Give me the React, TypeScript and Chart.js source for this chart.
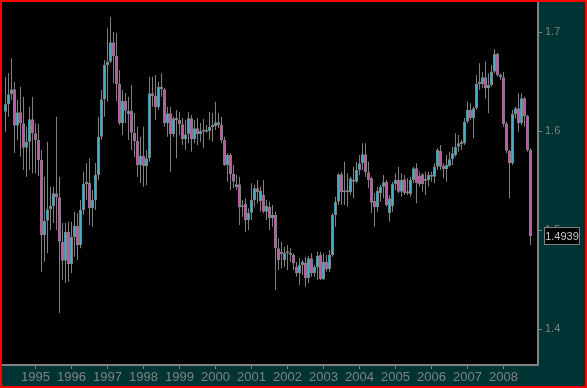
import { useEffect, useRef } from "react";
import { Chart, registerables } from "chart.js";

Chart.register(...registerables);

// First candle: March 1994, expressed as months since January 1995
const START_MONTH = -10;

const yearLabels = ["1995", "1996", "1997", "1998", "1999", "2000", "2001", "2002", "2003", "2004", "2005", "2006", "2007", "2008"];
const priceTicks = [1.4, 1.5, 1.6, 1.7];
const lastValue = 1.4939;

const opens = [
  // 1994 Mar-Dec
  1.6198, 1.6276, 1.6374, 1.6424, 1.6056, 1.6192, 1.6081, 1.5834, 1.5895, 1.6121,
  // 1995
  1.5980, 1.5912, 1.5710, 1.4952, 1.5097, 1.5212, 1.5245, 1.5374, 1.5333, 1.4885, 1.4693, 1.4986,
  // 1996
  1.4660, 1.4932, 1.5043, 1.4851, 1.5205, 1.5468, 1.5481, 1.5222, 1.5306, 1.5558, 1.5945, 1.6323,
  // 1997
  1.6669, 1.6703, 1.6899, 1.6760, 1.6478, 1.6081, 1.6309, 1.6175, 1.6208, 1.5986, 1.5902, 1.5659,
  // 1998
  1.5753, 1.5649, 1.5727, 1.6384, 1.6356, 1.6242, 1.6450, 1.6424, 1.6081, 1.6182, 1.5973, 1.6131,
  // 1999
  1.6114, 1.6071, 1.5919, 1.5970, 1.6131, 1.5919, 1.6030, 1.5970, 1.6006, 1.5996, 1.6003, 1.6043,
  // 2000
  1.6053, 1.6091, 1.6063, 1.5912, 1.5659, 1.5760, 1.5569, 1.5434, 1.5465, 1.5232, 1.5266, 1.5104,
  // 2001
  1.5178, 1.5306, 1.5424, 1.5296, 1.5356, 1.5188, 1.5238, 1.5121, 1.5154, 1.4818, 1.4761, 1.4700,
  // 2002
  1.4774, 1.4761, 1.4750, 1.4632, 1.4566, 1.4649, 1.4673, 1.4515, 1.4717, 1.4566, 1.4629, 1.4750,
  // 2003
  1.4505, 1.4683, 1.4606, 1.4750, 1.5154, 1.5289, 1.5566, 1.5384, 1.5390, 1.5384, 1.5508, 1.5491,
  // 2004
  1.5609, 1.5677, 1.5768, 1.5586, 1.5525, 1.5296, 1.5232, 1.5374, 1.5440, 1.5491, 1.5175, 1.5245,
  // 2005
  1.5468, 1.5508, 1.5390, 1.5515, 1.5374, 1.5367, 1.5508, 1.5626, 1.5548, 1.5566, 1.5515, 1.5508,
  // 2006
  1.5558, 1.5541, 1.5642, 1.5804, 1.5649, 1.5616, 1.5649, 1.5717, 1.5760, 1.5844, 1.5879, 1.5879,
  // 2007
  1.6097, 1.6215, 1.6131, 1.6232, 1.6478, 1.6478, 1.6545, 1.6434, 1.6467, 1.6602, 1.6781, 1.6568,
  // 2008 Jan-Oct
  1.6545, 1.6074, 1.5804, 1.5677, 1.6175, 1.6232, 1.6081, 1.6333, 1.6154, 1.5811,
];

const highs = [
  1.6551, 1.6586, 1.6737, 1.6501, 1.6316, 1.6450, 1.6349, 1.6046, 1.6248, 1.6349,
  1.6081, 1.6074, 1.5811, 1.5541, 1.5895, 1.5440, 1.5440, 1.6147, 1.5541, 1.5074, 1.5074, 1.5087,
  1.5087, 1.5188, 1.5172, 1.5306, 1.5592, 1.5677, 1.5727, 1.5407, 1.5680, 1.6147, 1.6417, 1.6720,
  1.7040, 1.7157, 1.7006, 1.6993, 1.6619, 1.6417, 1.6387, 1.6349, 1.6467, 1.6185, 1.6046, 1.5945,
  1.6046, 1.5811, 1.6551, 1.6551, 1.6568, 1.6501, 1.6586, 1.6434, 1.6248, 1.6248, 1.6147, 1.6215,
  1.6195, 1.6134, 1.6114, 1.6198, 1.6164, 1.6114, 1.6134, 1.6084, 1.6124, 1.6063, 1.6198, 1.6185,
  1.6299, 1.6185, 1.6147, 1.5945, 1.5778, 1.5781, 1.5659, 1.5558, 1.5541, 1.5306, 1.5323, 1.5222,
  1.5475, 1.5457, 1.5508, 1.5440, 1.5508, 1.5306, 1.5289, 1.5255, 1.5188, 1.4919, 1.4885, 1.4834,
  1.4851, 1.4818, 1.4768, 1.4683, 1.4717, 1.4700, 1.4733, 1.4740, 1.4768, 1.4649, 1.4784, 1.4784,
  1.4768, 1.4750, 1.4801, 1.5172, 1.5339, 1.5576, 1.5592, 1.5693, 1.5576, 1.5541, 1.5642, 1.5693,
  1.5760, 1.5879, 1.5879, 1.5693, 1.5541, 1.5374, 1.5440, 1.5457, 1.5558, 1.5508, 1.5356, 1.5491,
  1.5576, 1.5642, 1.5576, 1.5558, 1.5525, 1.5541, 1.5642, 1.5677, 1.5592, 1.5576, 1.5592, 1.5592,
  1.5592, 1.5677, 1.5828, 1.5861, 1.5677, 1.5760, 1.5794, 1.5844, 1.5980, 1.5962, 1.5912, 1.6134,
  1.6299, 1.6283, 1.6248, 1.6568, 1.6687, 1.6602, 1.6703, 1.6586, 1.6669, 1.6828, 1.6794, 1.6586,
  1.6602, 1.6097, 1.5811, 1.6215, 1.6248, 1.6384, 1.6384, 1.6349, 1.6165, 1.5828,
];

const lows = [
  1.5996, 1.6147, 1.6316, 1.5781, 1.5912, 1.5743, 1.5609, 1.5541, 1.5609, 1.5576,
  1.5576, 1.5548, 1.4582, 1.4683, 1.4768, 1.5003, 1.5074, 1.5003, 1.4165, 1.4498, 1.4468, 1.4481,
  1.4569, 1.4733, 1.4700, 1.4818, 1.5154, 1.5306, 1.5053, 1.5036, 1.5205, 1.5508, 1.5912, 1.6147,
  1.6299, 1.6690, 1.6488, 1.6306, 1.6063, 1.5962, 1.6084, 1.5912, 1.5811, 1.5740, 1.5541, 1.5478,
  1.5440, 1.5457, 1.5693, 1.6248, 1.6114, 1.6215, 1.6349, 1.6046, 1.5945, 1.5592, 1.5945, 1.5727,
  1.5962, 1.5861, 1.5811, 1.5879, 1.5794, 1.5879, 1.5861, 1.5895, 1.5831, 1.5983, 1.5912, 1.5895,
  1.6013, 1.6033, 1.5879, 1.5649, 1.5491, 1.5407, 1.5424, 1.5407, 1.5053, 1.5137, 1.4986, 1.5003,
  1.5104, 1.5238, 1.5273, 1.5188, 1.5172, 1.5104, 1.5003, 1.5036, 1.4397, 1.4599, 1.4616, 1.4632,
  1.4599, 1.4683, 1.4599, 1.4531, 1.4447, 1.4548, 1.4430, 1.4465, 1.4531, 1.4531, 1.4498, 1.4498,
  1.4498, 1.4582, 1.4579, 1.4733, 1.5036, 1.5255, 1.5255, 1.5255, 1.5238, 1.5356, 1.5323, 1.5475,
  1.5558, 1.5609, 1.5541, 1.5424, 1.5172, 1.5036, 1.5188, 1.5289, 1.5323, 1.5238, 1.5087, 1.5188,
  1.5407, 1.5374, 1.5339, 1.5356, 1.5356, 1.5339, 1.5475, 1.5273, 1.5440, 1.5390, 1.5356, 1.5440,
  1.5491, 1.5475, 1.5609, 1.5609, 1.5525, 1.5491, 1.5642, 1.5659, 1.5743, 1.5794, 1.5811, 1.5861,
  1.6081, 1.6114, 1.5929, 1.6215, 1.6417, 1.6434, 1.6333, 1.6182, 1.6450, 1.6586, 1.6551, 1.6518,
  1.6046, 1.5778, 1.5323, 1.5659, 1.6131, 1.5996, 1.6063, 1.6046, 1.5794, 1.4851,
];

const closes = [
  1.6276, 1.6374, 1.6424, 1.6056, 1.6192, 1.6081, 1.5834, 1.5895, 1.6121, 1.5980,
  1.5912, 1.5710, 1.4952, 1.5097, 1.5212, 1.5245, 1.5374, 1.5333, 1.4885, 1.4693, 1.4986, 1.4660,
  1.4932, 1.5043, 1.4851, 1.5205, 1.5468, 1.5481, 1.5222, 1.5306, 1.5558, 1.5945, 1.6323, 1.6669,
  1.6703, 1.6899, 1.6760, 1.6478, 1.6081, 1.6309, 1.6208, 1.6208, 1.5986, 1.5902, 1.5659, 1.5753,
  1.5649, 1.5727, 1.6384, 1.6356, 1.6242, 1.6450, 1.6424, 1.6081, 1.6182, 1.5973, 1.6131, 1.6114,
  1.6071, 1.5919, 1.5970, 1.6131, 1.5919, 1.6030, 1.5970, 1.6006, 1.5996, 1.6003, 1.6043, 1.6053,
  1.6091, 1.6063, 1.5912, 1.5659, 1.5760, 1.5569, 1.5491, 1.5465, 1.5232, 1.5252, 1.5104, 1.5178,
  1.5306, 1.5424, 1.5387, 1.5400, 1.5188, 1.5245, 1.5121, 1.5154, 1.4818, 1.4700, 1.4768, 1.4774,
  1.4768, 1.4750, 1.4667, 1.4566, 1.4649, 1.4683, 1.4515, 1.4717, 1.4566, 1.4632, 1.4740, 1.4505,
  1.4683, 1.4606, 1.4750, 1.5154, 1.5289, 1.5566, 1.5384, 1.5390, 1.5384, 1.5525, 1.5491, 1.5609,
  1.5677, 1.5768, 1.5586, 1.5508, 1.5279, 1.5232, 1.5397, 1.5440, 1.5485, 1.5255, 1.5323, 1.5468,
  1.5508, 1.5390, 1.5508, 1.5374, 1.5390, 1.5508, 1.5626, 1.5475, 1.5468, 1.5468, 1.5501, 1.5558,
  1.5541, 1.5642, 1.5811, 1.5642, 1.5616, 1.5659, 1.5717, 1.5778, 1.5844, 1.5879, 1.5872, 1.6097,
  1.6215, 1.6131, 1.6232, 1.6478, 1.6485, 1.6545, 1.6434, 1.6467, 1.6602, 1.6781, 1.6568, 1.6545,
  1.6074, 1.5804, 1.5677, 1.6175, 1.6232, 1.6081, 1.6333, 1.6154, 1.5811, 1.4939,
];

const UP = "#00c8f8";
const DOWN = "#f038c8";
const GREY = "#808080";
const PANEL = "#003434";

export default function App() {
  const ref = useRef<HTMLCanvasElement>(null);

  useEffect(() => {
    document.body.style.margin = "0";
    const canvas = ref.current;
    if (!canvas) return;

    const months = opens.map((_, i) => START_MONTH + i);
    const wickData = months.map((m, i) => ({ x: m, y: [lows[i], highs[i]] }));
    const bodyData = months.map((m, i) => ({ x: m, y: [opens[i], closes[i]] }));
    const bodyColors = months.map((_, i) => (closes[i] >= opens[i] ? UP : DOWN));

    const framePlugin = {
      id: "frame",
      beforeDraw(chart: any) {
        const { ctx, chartArea: a, width, height } = chart;
        ctx.save();
        ctx.fillStyle = PANEL;
        ctx.fillRect(0, 0, width, height);
        ctx.fillStyle = "#000000";
        ctx.fillRect(a.left, a.top, a.right - a.left, a.bottom - a.top);
        ctx.restore();
      },
      afterDraw(chart: any) {
        const { ctx, chartArea: a, width, height } = chart;
        const y = Math.round(chart.scales.y.getPixelForValue(lastValue));
        ctx.save();
        const bx = Math.round(a.right) + 6.5;
        const bw = 35;
        const bh = 17;
        ctx.fillStyle = "#000000";
        ctx.fillRect(bx, y - 8.5, bw, bh);
        ctx.strokeStyle = GREY;
        ctx.lineWidth = 1;
        ctx.strokeRect(bx, y - 8.5, bw, bh);
        ctx.fillStyle = "#c8c8c8";
        ctx.font = "11px 'Liberation Sans', Arial, sans-serif";
        ctx.textAlign = "center";
        ctx.textBaseline = "middle";
        ctx.fillText(lastValue.toFixed(4), bx + bw / 2, y + 0.5);
        ctx.strokeStyle = "#ff0000";
        ctx.lineWidth = 2;
        ctx.strokeRect(1, 1, width - 2, height - 2);
        ctx.restore();
      },
    };

    const noPad = (s: any) => {
      s.paddingTop = 0;
      s.paddingBottom = 0;
      s.paddingLeft = 0;
      s.paddingRight = 0;
    };

    const chart = new Chart(canvas, {
      type: "bar",
      data: {
        datasets: [
          {
            label: "wick",
            data: wickData as any,
            backgroundColor: GREY,
            borderWidth: 0,
            barThickness: 1,
            grouped: false,
            inflateAmount: 0,
            order: 2,
          } as any,
          {
            label: "body",
            data: bodyData as any,
            backgroundColor: bodyColors,
            borderColor: GREY,
            borderWidth: 1,
            borderSkipped: false,
            barThickness: 3,
            minBarLength: 2,
            grouped: false,
            inflateAmount: 0,
            order: 1,
          } as any,
        ],
      },
      options: {
        responsive: false,
        animation: false,
        devicePixelRatio: 1,
        layout: { padding: { left: 2, top: 2, right: 2, bottom: 2 } },
        plugins: { legend: { display: false }, tooltip: { enabled: false } },
        scales: {
          x: {
            type: "linear",
            min: -11.1667,
            max: 167.5,
            offset: false,
            afterBuildTicks: (s: any) => {
              s.ticks = yearLabels.map((_, i) => ({ value: i * 12 }));
            },
            afterFit: (s: any) => {
              s.height = 21;
              noPad(s);
            },
            ticks: {
              callback: (v: any) => yearLabels[Math.round(Number(v) / 12)] ?? "",
              color: GREY,
              font: { family: "'Liberation Sans', Arial, sans-serif", size: 13 },
              maxRotation: 0,
              autoSkip: false,
              padding: 1,
            },
            grid: { display: true, drawOnChartArea: false, drawTicks: true, tickLength: 4, color: GREY, offset: false },
            border: { display: true, color: GREY, width: 2 },
          },
          y: {
            type: "linear",
            position: "right",
            min: 1.36394,
            max: 1.73061,
            beginAtZero: false,
            afterBuildTicks: (s: any) => {
              s.ticks = priceTicks.map((v) => ({ value: v }));
            },
            afterFit: (s: any) => {
              s.width = 47;
              noPad(s);
            },
            ticks: {
              callback: (v: any) => Number(v).toFixed(1),
              color: GREY,
              font: { family: "'Liberation Sans', Arial, sans-serif", size: 11 },
              padding: 3,
            },
            grid: { display: true, drawOnChartArea: false, drawTicks: true, tickLength: 4, color: GREY },
            border: { display: true, color: GREY, width: 2 },
          },
        },
      } as any,
      plugins: [framePlugin],
    });

    return () => chart.destroy();
  }, []);

  return (
    <div style={{ width: 587, height: 388 }}>
      <canvas ref={ref} width={587} height={388} style={{ display: "block" }} />
    </div>
  );
}
